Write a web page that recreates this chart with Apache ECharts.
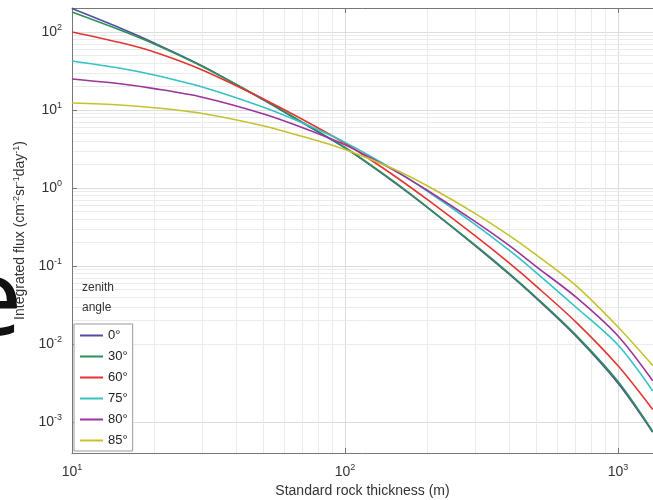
<!DOCTYPE html>
<html><head><meta charset="utf-8">
<script src="https://cdn.jsdelivr.net/npm/echarts@6/dist/echarts.min.js"></script>
<style>html,body{margin:0;padding:0;background:#fff}#c{width:653px;height:500px}</style>
</head><body><div id="c"></div>
<script>
// Standard rock thickness (m)
const depth = [10, 15, 20, 30, 50, 70, 100, 150, 200, 300, 400, 500, 700, 1000, 1340];
const seriesNames = ['0°', '30°', '60°', '75°', '80°', '85°'];
const flux0  = [200, 112.5, 72.3, 36.7, 13.6, 6.81, 3.26, 1.208, 0.564, 0.1816, 0.0780, 0.0389, 0.01267, 0.003135, 0.000738];
const flux30 = [180.5, 106, 70.2, 36.1, 13.8, 6.9, 3.3, 1.23, 0.57, 0.185, 0.080, 0.040, 0.0131, 0.0033, 0.00076];
const flux60 = [100, 73.1, 55.4, 32.6, 13.96, 7.55, 3.74, 1.468, 0.712, 0.2425, 0.1086, 0.0556, 0.0192, 0.00525, 0.001446];
const flux75 = [42.5, 34.3, 28.1, 19.7, 10.9, 6.79, 3.84, 1.736, 0.915, 0.3395, 0.158, 0.0830, 0.0298, 0.00971, 0.0025];
const flux80 = [25.0, 21.7, 18.8, 14.6, 8.97, 5.93, 3.57, 1.707, 0.934, 0.3700, 0.1820, 0.0990, 0.0401, 0.01267, 0.00338];
const flux85 = [12.3, 11.6, 10.7, 9.02, 6.29, 4.57, 3.11, 1.763, 1.067, 0.4696, 0.2446, 0.140, 0.0564, 0.0165, 0.00530];
const fluxes = [flux0, flux30, flux60, flux75, flux80, flux85];
const colors = ['#4f4fa0', '#2f8f5a', '#e2352f', '#35c2c2', '#9b349b', '#c4c22e'];

const xRange = [10, 1343];
const yRange = [4.0e-4, 203];
const xTickExps = [1, 2, 3];
const yTickExps = [-3, -2, -1, 0, 1, 2];
const xMinor = [20,30,40,50,60,70,80,90,200,300,400,500,600,700,800,900];
const yMinor = [5e-4,6e-4,7e-4,8e-4,9e-4,
  2e-3,3e-3,4e-3,5e-3,6e-3,7e-3,8e-3,9e-3,
  2e-2,3e-2,4e-2,5e-2,6e-2,7e-2,8e-2,9e-2,
  0.2,0.3,0.4,0.5,0.6,0.7,0.8,0.9,
  2,3,4,5,6,7,8,9, 20,30,40,50,60,70,80,90, 200];

const FONT = 'Liberation Sans';
function powLabel(exps) {
  return function (v) {
    const l = Math.log10(v);
    const e = Math.round(l);
    if (Math.abs(l - e) > 1e-6 || exps.indexOf(e) < 0) return '';
    return '{b|10}{s|' + e + '}';
  };
}
const tickRich = {
  b: {fontSize: 14, color: '#333', fontFamily: FONT, lineHeight: 18},
  s: {fontSize: 9, color: '#333', fontFamily: FONT, verticalAlign: 'top', lineHeight: 10}
};

const chart = echarts.init(document.getElementById('c'), null, {renderer: 'canvas'});
const lineSeries = seriesNames.map((n, i) => ({
  name: n, type: 'line', xAxisIndex: 0, yAxisIndex: 0,
  data: depth.map((d, j) => [d, fluxes[i][j]]),
  symbol: 'none', showSymbol: false, smooth: 0.3, z: 3,
  lineStyle: {width: 1.6, color: colors[i]}, itemStyle: {color: colors[i]}
}));
lineSeries.push({
  type: 'line', data: [], silent: true, xAxisIndex: 0, yAxisIndex: 0,
  markLine: {
    silent: true, symbol: ['none', 'none'], label: {show: false}, z: 0, animation: false,
    lineStyle: {color: '#ebebeb', width: 1, type: 'solid'},
    emphasis: {disabled: true},
    data: xMinor.map(v => ({xAxis: v})).concat(yMinor.map(v => ({yAxis: v})))
  }
});

chart.setOption({
  animation: false,
  backgroundColor: '#fff',
  grid: {left: 72, right: 0, top: 8, bottom: 47, containLabel: false, outerBoundsMode: 'none'},
  title: {
    text: 'zenith\nangle', left: 77, top: 273,
    textStyle: {fontSize: 12, fontWeight: 'normal', color: '#333', fontFamily: FONT, lineHeight: 20}
  },
  legend: {
    data: seriesNames, orient: 'vertical', left: 74, top: 324,
    itemWidth: 23, itemHeight: 2, itemGap: 8, icon: 'rect',
    backgroundColor: '#fff', borderColor: '#999', borderWidth: 1, borderRadius: 0,
    padding: [5, 5, 4, 6],
    textStyle: {fontSize: 13, color: '#222', fontFamily: FONT}
  },
  xAxis: [{
    type: 'log', min: xRange[0], max: xRange[1], position: 'bottom',
    name: 'Standard rock thickness (m)', nameLocation: 'middle', nameGap: 31,
    nameTextStyle: {fontSize: 14, color: '#333', fontFamily: FONT},
    axisLine: {show: true, lineStyle: {color: '#777', width: 1}},
    axisTick: {show: true, inside: true, length: 5, lineStyle: {color: '#777'}},
    axisLabel: {formatter: powLabel(xTickExps), rich: tickRich, margin: 10, showMinLabel: true, showMaxLabel: true, hideOverlap: false},
    splitLine: {show: true, lineStyle: {color: '#dcdcdc', width: 1}}
  }, {
    type: 'log', min: xRange[0], max: xRange[1], position: 'top',
    axisLine: {show: true, lineStyle: {color: '#777', width: 1}},
    axisTick: {show: true, inside: true, length: 5, lineStyle: {color: '#777'}},
    axisLabel: {show: false}, splitLine: {show: false}
  }],
  yAxis: [{
    type: 'log', min: yRange[0], max: yRange[1],
    name: '{n|Integrated flux (cm}{s|-2}{n|sr}{s|-1}{n|day}{s|-1}{n|)}',
    nameLocation: 'middle', nameGap: 38,
    nameTextStyle: {
      rich: {
        n: {fontSize: 14, color: '#333', fontFamily: FONT, lineHeight: 17},
        s: {fontSize: 9, color: '#333', fontFamily: FONT, verticalAlign: 'top', lineHeight: 10}
      }
    },
    axisLine: {show: true, lineStyle: {color: '#777', width: 1}},
    axisTick: {show: true, inside: true, length: 5, lineStyle: {color: '#777'}},
    axisLabel: {formatter: powLabel(yTickExps), rich: tickRich, margin: 10, showMinLabel: true, showMaxLabel: true, hideOverlap: false},
    splitLine: {show: true, lineStyle: {color: '#dcdcdc', width: 1}}
  }],
  graphic: [{
    type: 'text', x: 22, y: 305, z: 100,
    style: {text: 'e', font: '106px "Noto Sans"', fill: '#111', align: 'right', verticalAlign: 'middle'}
  }],
  series: lineSeries
});
</script>
</body></html>
